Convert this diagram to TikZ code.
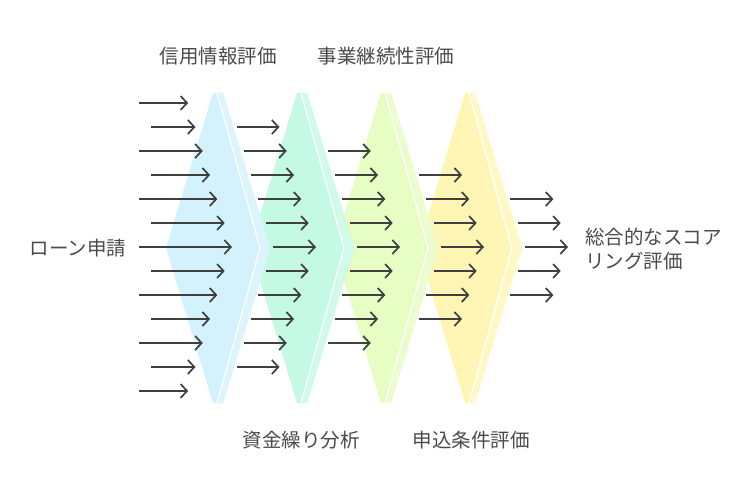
\documentclass[tikz,border=0pt]{standalone}
\usepackage{fontspec}
\setmainfont{Noto Sans CJK JP}
\usepackage{tikz}
\usetikzlibrary{arrows.meta,positioning}

\definecolor{chevA}{HTML}{D3F2FD}
\definecolor{chevB}{HTML}{C4FAE3}
\definecolor{chevC}{HTML}{E6FDC3}
\definecolor{chevD}{HTML}{FFF6B6}
\definecolor{ink}{HTML}{3F3F3F}
\definecolor{txt}{HTML}{4A4A4A}

\begin{document}
\begin{tikzpicture}[x=1pt, y=-1pt, >={Straight Barb[length=6.5pt,width=14pt]},
    every node/.style={font=\fontsize{19.5pt}{24pt}\selectfont, text=txt, inner sep=0pt},
    flow/.style={->, draw=ink, line width=1.7pt}]
   \useasboundingbox (0,0) rectangle (743,476);

   % chevrons, back to front
   \foreach \k/\col in {4/chevD,3/chevC,2/chevB,1/chevA} {
     \pgfmathsetmacro{\tl}{213+84*(\k-1)}
     \fill[\col] (\tl,93) -- ++(10,0) -- ++(47,155) -- ++(-47,155) -- ++(-10,0) -- ++(-47,-155) -- cycle;
     \fill[\col!80!white] (\tl+4,93) -- ++(6,0) -- ++(47,155) -- ++(-47,155) -- ++(-6,0) -- ++(43,-155) -- cycle;
     \draw[white, line width=1.2pt] (\tl+4,93) -- ++(43,155) -- ++(-43,155);
   }

   % arrows
   \foreach \c in {1,...,5} {
     \pgfmathtruncatemacro{\rhi}{14-\c}
     \foreach \r in {\c,...,\rhi} {
       \pgfmathsetmacro{\d}{abs(\r-7)}
       \pgfmathsetmacro{\y}{103+24*(\r-1)}
       \pgfmathsetmacro{\xe}{232+84*(\c-1)-7.3*\d}
       \pgfmathsetmacro{\xs}{\c==1 ? 139+12*(1-mod(\r,2)) : \xe-43}
       \coordinate (s\c-\r) at (\xs,\y);
       \coordinate (e\c-\r) at (\xe,\y);
       \draw[flow] (s\c-\r) -- (e\c-\r);
     }
   }

   \node[] (apply) at (78,248) {ローン申請};
   \node[anchor=west, align=left] (score) at (585,249) {総合的なスコア\\リング評価};
   \node[] (credit) at (218,56) {信用情報評価};
   \node[] (business) at (386,56) {事業継続性評価};
   \node[] (cash) at (301,440) {資金繰り分析};
   \node[] (terms) at (471,440) {申込条件評価};
\end{tikzpicture}
\end{document}
